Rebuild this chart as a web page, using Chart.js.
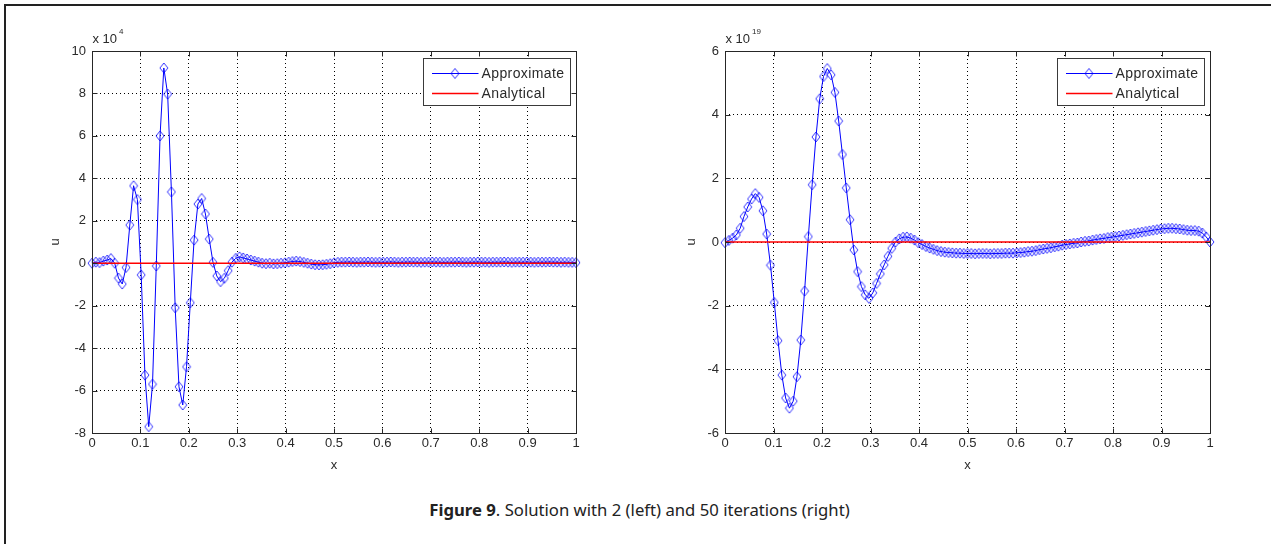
<!DOCTYPE html>
<html>
<head>
<meta charset="utf-8">
<script src="https://cdn.jsdelivr.net/npm/chart.js@4.4.0/dist/chart.umd.min.js"></script>
<style>
  body { margin: 0; background: #fff; width: 1271px; height: 544px; overflow: hidden; position: relative; }
  #frame { position: absolute; left: 4px; top: 4px; width: 1300px; height: 600px;
           border-top: 2px solid #222; border-left: 2px solid #222; }
  canvas { position: absolute; top: 0; }
  #c1 { left: 0; }
  #c2 { left: 633px; }
  #caption { position: absolute; left: 4px; width: 1271px; top: 498px; text-align: center;
             font: 16.7px "Noto Sans", sans-serif; color: #222; }
</style>
</head>
<body>
<div id="frame"></div>
<canvas id="c1" width="633" height="480"></canvas>
<canvas id="c2" width="638" height="480"></canvas>
<div id="caption"><b>Figure 9</b>. Solution with 2 (left) and 50 iterations (right)</div>

<script>
// grid nodes (h = 1/128)
const xGrid = [
  0, 0.0078, 0.0156, 0.0234, 0.0313, 0.0391, 0.0469, 0.0547,
  0.0625, 0.0703, 0.0781, 0.0859, 0.0938, 0.1016, 0.1094, 0.1172,
  0.125, 0.1328, 0.1406, 0.1484, 0.1563, 0.1641, 0.1719, 0.1797,
  0.1875, 0.1953, 0.2031, 0.2109, 0.2188, 0.2266, 0.2344, 0.2422,
  0.25, 0.2578, 0.2656, 0.2734, 0.2813, 0.2891, 0.2969, 0.3047,
  0.3125, 0.3203, 0.3281, 0.3359, 0.3438, 0.3516, 0.3594, 0.3672,
  0.375, 0.3828, 0.3906, 0.3984, 0.4063, 0.4141, 0.4219, 0.4297,
  0.4375, 0.4453, 0.4531, 0.4609, 0.4688, 0.4766, 0.4844, 0.4922,
  0.5, 0.5078, 0.5156, 0.5234, 0.5313, 0.5391, 0.5469, 0.5547,
  0.5625, 0.5703, 0.5781, 0.5859, 0.5938, 0.6016, 0.6094, 0.6172,
  0.625, 0.6328, 0.6406, 0.6484, 0.6563, 0.6641, 0.6719, 0.6797,
  0.6875, 0.6953, 0.7031, 0.7109, 0.7188, 0.7266, 0.7344, 0.7422,
  0.75, 0.7578, 0.7656, 0.7734, 0.7813, 0.7891, 0.7969, 0.8047,
  0.8125, 0.8203, 0.8281, 0.8359, 0.8438, 0.8516, 0.8594, 0.8672,
  0.875, 0.8828, 0.8906, 0.8984, 0.9063, 0.9141, 0.9219, 0.9297,
  0.9375, 0.9453, 0.9531, 0.9609, 0.9688, 0.9766, 0.9844, 0.9922,
  1
];

// approximate solution after 2 iterations, units of 1e4
const leftU = [
  0.0, 0.05, 0.03, 0.1, 0.15, 0.22, 0.0, -0.7,
  -0.98, -0.2, 1.8, 3.65, 3.0, -0.55, -5.27, -7.7,
  -5.7, -0.13, 6.0, 9.2, 7.97, 3.36, -2.1, -5.82,
  -6.68, -4.88, -1.86, 1.09, 2.79, 3.05, 2.32, 1.14,
  0.04, -0.6, -0.87, -0.71, -0.35, 0.05, 0.23, 0.3,
  0.25, 0.2, 0.15, 0.1, 0.05, 0.0, -0.02, 0.0,
  -0.03, -0.02, 0.0, 0.02, 0.05, 0.08, 0.1, 0.08,
  0.04, 0.0, -0.04, -0.07, -0.08, -0.07, -0.05, -0.02,
  0.02, 0.04, 0.05, 0.05, 0.06, 0.05, 0.04, 0.05,
  0.05, 0.06, 0.05, 0.04, 0.05, 0.05, 0.05, 0.06,
  0.05, 0.04, 0.05, 0.05, 0.06, 0.05, 0.05, 0.04,
  0.05, 0.05, 0.06, 0.05, 0.05, 0.04, 0.05, 0.05,
  0.05, 0.06, 0.05, 0.04, 0.05, 0.05, 0.06, 0.05,
  0.05, 0.04, 0.05, 0.05, 0.05, 0.06, 0.05, 0.04,
  0.05, 0.05, 0.05, 0.06, 0.05, 0.04, 0.05, 0.05,
  0.05, 0.06, 0.05, 0.05, 0.04, 0.05, 0.04, 0.04,
  0.03
];

// approximate solution after 50 iterations, units of 1e19
const rightU = [
  -0.02, 0.05, 0.12, 0.22, 0.43, 0.8, 1.1, 1.35,
  1.52, 1.4, 0.98, 0.25, -0.73, -1.9, -3.1, -4.18,
  -4.9, -5.22, -5.0, -4.23, -3.08, -1.54, 0.17, 1.8,
  3.3, 4.5, 5.2, 5.45, 5.25, 4.7, 3.8, 2.75,
  1.7, 0.7, -0.25, -0.93, -1.4, -1.66, -1.77, -1.6,
  -1.3, -1.0, -0.72, -0.45, -0.2, 0.0, 0.1, 0.15,
  0.16, 0.12, 0.06, -0.02, -0.08, -0.14, -0.19, -0.23,
  -0.27, -0.3, -0.32, -0.33, -0.34, -0.35, -0.35, -0.36,
  -0.36, -0.36, -0.37, -0.36, -0.36, -0.36, -0.37, -0.36,
  -0.36, -0.36, -0.35, -0.35, -0.35, -0.34, -0.33, -0.32,
  -0.3, -0.29, -0.27, -0.24, -0.22, -0.2, -0.18, -0.15,
  -0.13, -0.1, -0.08, -0.06, -0.04, -0.03, 0.0, 0.02,
  0.03, 0.06, 0.08, 0.1, 0.11, 0.14, 0.15, 0.17,
  0.19, 0.21, 0.23, 0.25, 0.27, 0.29, 0.31, 0.33,
  0.35, 0.37, 0.39, 0.41, 0.42, 0.43, 0.43, 0.42,
  0.41, 0.39, 0.37, 0.36, 0.36, 0.34, 0.28, 0.16,
  0.0
];

// analytical solution is negligible on both scales
const exactX = [0, 0.5, 1];
const exactU = [0, 0, 0];

const xTicks = [0, 0.1, 0.2, 0.3, 0.4, 0.5, 0.6, 0.7, 0.8, 0.9, 1];
const leftYTicks = [-8, -6, -4, -2, 0, 2, 4, 6, 8, 10];
const rightYTicks = [-6, -4, -2, 0, 2, 4, 6];
const legendLabels = ['Approximate', 'Analytical'];

const BLUE = '#0000ff';
const RED = '#ff0000';
const AXIS = '#262626';
const TXT = '#2a2a2a';

// diamond marker as a tiny sprite (a bit taller than wide)
function diamondSprite() {
  const c = document.createElement('canvas');
  c.width = 10; c.height = 12;
  const g = c.getContext('2d');
  g.strokeStyle = 'rgba(0,0,255,0.8)';
  g.lineWidth = 1;
  g.beginPath();
  g.moveTo(5, 1); g.lineTo(9, 6); g.lineTo(5, 11); g.lineTo(1, 6);
  g.closePath();
  g.stroke();
  return c;
}
const diamond = diamondSprite();

const toXY = (xs, ys) => xs.map((x, i) => ({ x: x, y: ys[i] }));

// box, inward ticks, legend and exponent label
const matlabAxes = {
  id: 'matlabAxes',
  afterDatasetsDraw(chart) {
    const { ctx, chartArea: a, scales } = chart;
    const L = Math.round(a.left) + 0.5, R = Math.round(a.right) + 0.5;
    const T = Math.round(a.top) + 0.5, B = Math.round(a.bottom) + 0.5;
    ctx.save();
    ctx.strokeStyle = AXIS;
    ctx.lineWidth = 1;
    ctx.setLineDash([]);
    ctx.beginPath();
    scales.x.ticks.forEach(t => {
      const px = Math.round(scales.x.getPixelForValue(t.value)) + 0.5;
      ctx.moveTo(px, B); ctx.lineTo(px, B - 5);
      ctx.moveTo(px, T); ctx.lineTo(px, T + 5);
    });
    scales.y.ticks.forEach(t => {
      const py = Math.round(scales.y.getPixelForValue(t.value)) + 0.5;
      ctx.moveTo(L, py); ctx.lineTo(L + 5, py);
      ctx.moveTo(R, py); ctx.lineTo(R - 5, py);
    });
    ctx.stroke();
    ctx.strokeRect(L, T, R - L, B - T);
    ctx.restore();
  },
  afterDraw(chart, args, opts) {
    const { ctx, chartArea: a } = chart;
    ctx.save();
    // "x 10^n" multiplier over the y axis
    ctx.fillStyle = TXT;
    ctx.textBaseline = 'alphabetic';
    ctx.textAlign = 'left';
    ctx.font = '13px "Liberation Sans"';
    const base = 'x 10';
    ctx.fillText(base, a.left + 0.5, a.top - 8);
    const w = ctx.measureText(base).width;
    ctx.font = '8px "Liberation Sans"';
    ctx.fillText(opts.exponent, a.left + w + 2.5, a.top - 17);

    // legend box
    const bx = Math.round(a.right) - 152.5, by = Math.round(a.top) + 7.5;
    ctx.fillStyle = '#fff';
    ctx.fillRect(bx, by, 147, 47);
    ctx.strokeStyle = '#3a3a3a';
    ctx.lineWidth = 1;
    ctx.strokeRect(bx, by, 147, 47);
    const rows = [by + 14, by + 34];
    const colors = [BLUE, RED];
    ctx.font = '14px "Liberation Sans"';
    ctx.letterSpacing = '0.4px';
    ctx.textBaseline = 'middle';
    legendLabels.forEach((label, i) => {
      const y = Math.round(rows[i]) + 0.5;
      ctx.strokeStyle = colors[i];
      ctx.lineWidth = i === 0 ? 1 : 1.5;
      ctx.beginPath();
      ctx.moveTo(bx + 8.5, y); ctx.lineTo(bx + 55, y);
      ctx.stroke();
      if (i === 0) ctx.drawImage(diamond, bx + 31.5 - 5, y - 6);
      ctx.fillStyle = TXT;
      ctx.fillText(label, bx + 58, y + 1);
    });
    ctx.restore();
  }
};

function makeChart(id, u, yTicks, padRight, yTitlePad, exponent) {
  return new Chart(document.getElementById(id), {
    type: 'line',
    data: {
      datasets: [
        {
          label: legendLabels[1],
          data: toXY(exactX, exactU),
          borderColor: RED,
          borderWidth: 1.5,
          pointRadius: 0,
          tension: 0,
          clip: false,
          order: 0
        },
        {
          label: legendLabels[0],
          data: toXY(xGrid, u),
          borderColor: BLUE,
          borderWidth: 1,
          pointStyle: diamond,
          pointRadius: 4,
          tension: 0,
          clip: false,
          order: 1
        }
      ]
    },
    options: {
      responsive: false,
      animation: false,
      events: [],
      layout: { padding: { left: 0, top: 51, right: padRight, bottom: 0 } },
      plugins: {
        legend: { display: false },
        tooltip: { enabled: false },
        matlabAxes: { exponent: exponent }
      },
      scales: {
        x: {
          type: 'linear',
          min: 0, max: 1,
          afterBuildTicks: s => { s.ticks = xTicks.map(v => ({ value: v })); },
          afterFit: s => { s.height = 47; },
          grid: { color: '#000', lineWidth: 1, drawTicks: false },
          border: { display: false, dash: [1, 3] },
          ticks: {
            padding: 3,
            color: TXT,
            font: { family: 'Liberation Sans', size: 13 },
            maxRotation: 0,
            callback: v => String(Math.round(v * 10) / 10)
          },
          title: {
            display: true, text: 'x', color: TXT,
            font: { family: 'Liberation Sans', size: 13 },
            padding: { top: 0, bottom: 7 }
          }
        },
        y: {
          type: 'linear',
          min: yTicks[0], max: yTicks[yTicks.length - 1],
          afterBuildTicks: s => { s.ticks = yTicks.map(v => ({ value: v })); },
          afterFit: s => { s.width = 92; },
          grid: { color: '#000', lineWidth: 1, drawTicks: false },
          border: { display: false, dash: [1, 3] },
          ticks: {
            padding: 6,
            color: TXT,
            font: { family: 'Liberation Sans', size: 13 },
            callback: v => String(v)
          },
          title: {
            display: true, text: 'u', color: TXT,
            font: { family: 'Liberation Sans', size: 13 },
            padding: { top: yTitlePad, bottom: 0 }
          }
        }
      }
    },
    plugins: [matlabAxes]
  });
}

makeChart('c1', leftU, leftYTicks, 57, 48, '4');
makeChart('c2', rightU, rightYTicks, 61, 51, '19');
</script>
</body>
</html>
